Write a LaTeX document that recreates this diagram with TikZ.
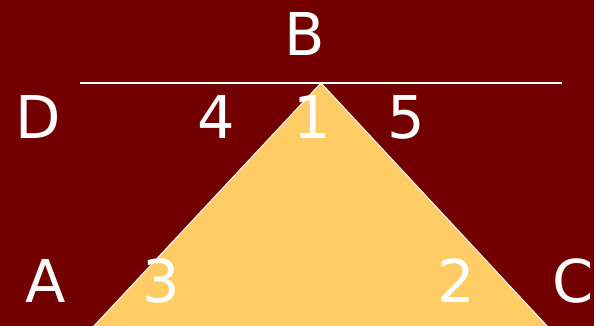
\documentclass[tikz,border=0pt]{standalone}
\usepackage{fontspec}
\setmainfont{DejaVu Sans}
\definecolor{bgred}{HTML}{730000}
\definecolor{tri}{HTML}{FFCC66}
\begin{document}
\begin{tikzpicture}[x=1pt,y=-1pt,
  lbl/.style={text=white,font=\fontsize{59}{60}\selectfont,anchor=base,inner sep=0pt}]
\fill[bgred] (0,0) rectangle (594,326);
\useasboundingbox (0,0) rectangle (594,326);
\coordinate (apex) at (321,83);
\coordinate (bl) at (93,327);
\coordinate (br) at (548,327);
\coordinate (l1) at (80,83);
\coordinate (l2) at (562,83);
\draw[white,line width=1.5pt] (l1) -- (l2);
\fill[tri] (bl) -- (apex) -- (br) -- cycle;
\draw[white,line width=1pt] (bl) -- (apex) -- (br);
\node[lbl] (B) at (305,56) {B};
\node[lbl] (D) at (38,139) {D};
\node[lbl] (n4) at (216,139) {4};
\node[lbl] (n1) at (312,139) {1};
\node[lbl] (n5) at (406,139) {5};
\node[lbl] (A) at (46,302) {A};
\node[lbl] (n3) at (161,302) {3};
\node[lbl] (n2) at (456,302) {2};
\node[lbl] (C) at (573,302) {C};
\end{tikzpicture}
\end{document}
